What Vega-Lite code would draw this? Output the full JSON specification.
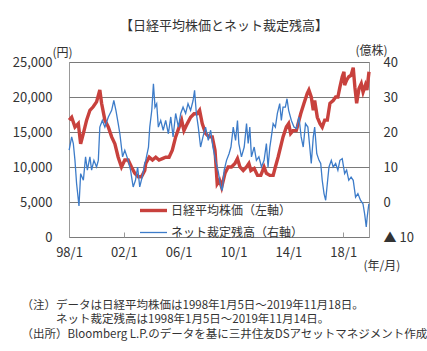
{
  "$schema": "https://vega.github.io/schema/vega-lite/v6.json",
  "width": 300,
  "height": 175,
  "autosize": {"type": "none"},
  "padding": {"left": 69, "top": 62, "right": 58, "bottom": 114},
  "background": "white",
  "config": {
    "font": "Noto Sans CJK JP",
    "view": {"stroke": "#999999", "strokeWidth": 1}
  },
  "title": {
    "text": "【日経平均株価とネット裁定残高】",
    "fontSize": 13,
    "fontWeight": "normal",
    "color": "#333333",
    "anchor": "middle",
    "frame": "group",
    "dx": 5,
    "offset": 11
  },
  "datasets": {
    "nikkei": [
      {"date": "1998-01-05", "value": 16700, "series": "日経平均株価（左軸）"},
      {"date": "1998-03-13", "value": 17100, "series": "日経平均株価（左軸）"},
      {"date": "1998-06-09", "value": 15700, "series": "日経平均株価（左軸）"},
      {"date": "1998-09-06", "value": 16200, "series": "日経平均株価（左軸）"},
      {"date": "1998-11-07", "value": 13300, "series": "日経平均株価（左軸）"},
      {"date": "1999-01-19", "value": 14800, "series": "日経平均株価（左軸）"},
      {"date": "1999-04-15", "value": 16700, "series": "日経平均株価（左軸）"},
      {"date": "1999-07-12", "value": 18100, "series": "日経平均株価（左軸）"},
      {"date": "1999-10-08", "value": 18600, "series": "日経平均株価（左軸）"},
      {"date": "2000-01-05", "value": 19300, "series": "日経平均株価（左軸）"},
      {"date": "2000-04-01", "value": 21000, "series": "日経平均株価（左軸）"},
      {"date": "2000-05-18", "value": 19100, "series": "日経平均株価（左軸）"},
      {"date": "2000-08-14", "value": 16700, "series": "日経平均株価（左軸）"},
      {"date": "2000-11-14", "value": 15700, "series": "日経平均株価（左軸）"},
      {"date": "2001-02-10", "value": 14300, "series": "日経平均株価（左軸）"},
      {"date": "2001-05-07", "value": 13300, "series": "日経平均株価（左軸）"},
      {"date": "2001-08-03", "value": 11400, "series": "日経平均株価（左軸）"},
      {"date": "2001-10-30", "value": 10000, "series": "日経平均株価（左軸）"},
      {"date": "2002-01-26", "value": 11000, "series": "日経平均株価（左軸）"},
      {"date": "2002-04-26", "value": 11000, "series": "日経平均株価（左軸）"},
      {"date": "2002-07-23", "value": 10000, "series": "日経平均株価（左軸）"},
      {"date": "2002-10-19", "value": 9100, "series": "日経平均株価（左軸）"},
      {"date": "2003-01-19", "value": 8600, "series": "日経平均株価（左軸）"},
      {"date": "2003-04-15", "value": 8600, "series": "日経平均株価（左軸）"},
      {"date": "2003-07-12", "value": 9500, "series": "日経平均株価（左軸）"},
      {"date": "2003-08-07", "value": 10500, "series": "日経平均株価（左軸）"},
      {"date": "2003-11-07", "value": 11400, "series": "日経平均株価（左軸）"},
      {"date": "2004-02-03", "value": 11000, "series": "日経平均株価（左軸）"},
      {"date": "2004-04-30", "value": 11400, "series": "日経平均株価（左軸）"},
      {"date": "2004-07-26", "value": 11000, "series": "日経平均株価（左軸）"},
      {"date": "2004-10-23", "value": 11200, "series": "日経平均株価（左軸）"},
      {"date": "2005-01-19", "value": 11400, "series": "日経平均株価（左軸）"},
      {"date": "2005-04-19", "value": 11400, "series": "日経平均株価（左軸）"},
      {"date": "2005-07-15", "value": 12400, "series": "日経平均株価（左軸）"},
      {"date": "2005-10-12", "value": 14300, "series": "日経平均株価（左軸）"},
      {"date": "2006-01-12", "value": 15700, "series": "日経平均株価（左軸）"},
      {"date": "2006-03-20", "value": 16700, "series": "日経平均株価（左軸）"},
      {"date": "2006-05-21", "value": 15200, "series": "日経平均株価（左軸）"},
      {"date": "2006-08-18", "value": 16200, "series": "日経平均株価（左軸）"},
      {"date": "2006-11-14", "value": 17100, "series": "日経平均株価（左軸）"},
      {"date": "2007-02-14", "value": 17600, "series": "日経平均株価（左軸）"},
      {"date": "2007-05-11", "value": 17600, "series": "日経平均株価（左軸）"},
      {"date": "2007-07-12", "value": 18100, "series": "日経平均株価（左軸）"},
      {"date": "2007-09-20", "value": 16200, "series": "日経平均株価（左軸）"},
      {"date": "2007-12-17", "value": 14800, "series": "日経平均株価（左軸）"},
      {"date": "2008-03-17", "value": 14300, "series": "日経平均株価（左軸）"},
      {"date": "2008-06-13", "value": 14300, "series": "日経平均株価（左軸）"},
      {"date": "2008-08-25", "value": 12400, "series": "日経平均株価（左軸）"},
      {"date": "2008-10-23", "value": 7600, "series": "日経平均株価（左軸）"},
      {"date": "2008-12-24", "value": 8100, "series": "日経平均株価（左軸）"},
      {"date": "2009-02-18", "value": 7100, "series": "日経平均株価（左軸）"},
      {"date": "2009-05-18", "value": 9100, "series": "日経平均株価（左軸）"},
      {"date": "2009-08-11", "value": 10000, "series": "日経平均株価（左軸）"},
      {"date": "2009-11-07", "value": 10000, "series": "日経平均株価（左軸）"},
      {"date": "2010-02-07", "value": 10500, "series": "日経平均株価（左軸）"},
      {"date": "2010-04-15", "value": 11200, "series": "日経平均株価（左軸）"},
      {"date": "2010-06-20", "value": 10000, "series": "日経平均株価（左軸）"},
      {"date": "2010-09-16", "value": 9500, "series": "日経平均株価（左軸）"},
      {"date": "2010-12-13", "value": 10000, "series": "日経平均株価（左軸）"},
      {"date": "2011-02-14", "value": 10500, "series": "日経平均株価（左軸）"},
      {"date": "2011-04-08", "value": 9500, "series": "日経平均株価（左軸）"},
      {"date": "2011-07-05", "value": 9800, "series": "日経平均株価（左軸）"},
      {"date": "2011-10-01", "value": 8800, "series": "日経平均株価（左軸）"},
      {"date": "2011-12-28", "value": 8800, "series": "日経平均株価（左軸）"},
      {"date": "2012-03-24", "value": 10000, "series": "日経平均株価（左軸）"},
      {"date": "2012-05-25", "value": 9100, "series": "日経平均株価（左軸）"},
      {"date": "2012-08-25", "value": 8800, "series": "日経平均株価（左軸）"},
      {"date": "2012-11-21", "value": 8800, "series": "日経平均株価（左軸）"},
      {"date": "2013-01-19", "value": 10000, "series": "日経平均株価（左軸）"},
      {"date": "2013-04-01", "value": 11400, "series": "日経平均株価（左軸）"},
      {"date": "2013-06-27", "value": 13300, "series": "日経平均株価（左軸）"},
      {"date": "2013-08-11", "value": 14300, "series": "日経平均株価（左軸）"},
      {"date": "2013-11-07", "value": 15700, "series": "日経平均株価（左軸）"},
      {"date": "2014-01-08", "value": 16200, "series": "日経平均株価（左軸）"},
      {"date": "2014-03-02", "value": 14800, "series": "日経平均株価（左軸）"},
      {"date": "2014-05-03", "value": 15200, "series": "日経平均株価（左軸）"},
      {"date": "2014-07-29", "value": 15200, "series": "日経平均株価（左軸）"},
      {"date": "2014-08-25", "value": 15700, "series": "日経平均株価（左軸）"},
      {"date": "2014-11-25", "value": 17600, "series": "日経平均株価（左軸）"},
      {"date": "2015-02-21", "value": 19100, "series": "日経平均株価（左軸）"},
      {"date": "2015-05-18", "value": 20500, "series": "日経平均株価（左軸）"},
      {"date": "2015-07-01", "value": 21000, "series": "日経平均株価（左軸）"},
      {"date": "2015-09-02", "value": 20000, "series": "日経平均株価（左軸）"},
      {"date": "2015-10-26", "value": 18100, "series": "日経平均株価（左軸）"},
      {"date": "2015-12-02", "value": 19500, "series": "日経平均株価（左軸）"},
      {"date": "2016-02-10", "value": 17100, "series": "日経平均株価（左軸）"},
      {"date": "2016-04-22", "value": 16200, "series": "日経平均株価（左軸）"},
      {"date": "2016-06-20", "value": 15700, "series": "日経平均株価（左軸）"},
      {"date": "2016-08-25", "value": 16700, "series": "日経平均株価（左軸）"},
      {"date": "2016-11-03", "value": 16700, "series": "日経平均株価（左軸）"},
      {"date": "2017-01-12", "value": 19100, "series": "日経平均株価（左軸）"},
      {"date": "2017-04-08", "value": 19500, "series": "日経平均株価（左軸）"},
      {"date": "2017-06-13", "value": 20000, "series": "日経平均株価（左軸）"},
      {"date": "2017-08-11", "value": 20000, "series": "日経平均株価（左軸）"},
      {"date": "2017-10-04", "value": 21400, "series": "日経平均株価（左軸）"},
      {"date": "2017-12-05", "value": 22900, "series": "日経平均株価（左軸）"},
      {"date": "2018-01-20", "value": 23600, "series": "日経平均株価（左軸）"},
      {"date": "2018-02-07", "value": 21700, "series": "日経平均株価（左軸）"},
      {"date": "2018-04-01", "value": 22400, "series": "日経平均株価（左軸）"},
      {"date": "2018-05-28", "value": 22900, "series": "日経平均株価（左軸）"},
      {"date": "2018-07-29", "value": 23100, "series": "日経平均株価（左軸）"},
      {"date": "2018-09-24", "value": 24200, "series": "日経平均株価（左軸）"},
      {"date": "2018-11-07", "value": 21400, "series": "日経平均株価（左軸）"},
      {"date": "2018-12-24", "value": 19100, "series": "日経平均株価（左軸）"},
      {"date": "2019-02-25", "value": 21200, "series": "日経平均株価（左軸）"},
      {"date": "2019-04-26", "value": 21900, "series": "日経平均株価（左軸）"},
      {"date": "2019-06-13", "value": 20700, "series": "日経平均株価（左軸）"},
      {"date": "2019-08-14", "value": 21700, "series": "日経平均株価（左軸）"},
      {"date": "2019-09-24", "value": 21000, "series": "日経平均株価（左軸）"},
      {"date": "2019-11-18", "value": 23600, "series": "日経平均株価（左軸）"}
    ],
    "arb": [
      {"date": "1998-01-05", "value": 14.8, "series": "ネット裁定残高（右軸）"},
      {"date": "1998-03-13", "value": 18.6, "series": "ネット裁定残高（右軸）"},
      {"date": "1998-04-26", "value": 16.7, "series": "ネット裁定残高（右軸）"},
      {"date": "1998-06-09", "value": 11.9, "series": "ネット裁定残高（右軸）"},
      {"date": "1998-07-22", "value": 5.3, "series": "ネット裁定残高（右軸）"},
      {"date": "1998-09-24", "value": -1.1, "series": "ネット裁定残高（右軸）"},
      {"date": "1998-11-07", "value": 8.1, "series": "ネット裁定残高（右軸）"},
      {"date": "1999-01-19", "value": 6.2, "series": "ネット裁定残高（右軸）"},
      {"date": "1999-03-18", "value": 12.9, "series": "ネット裁定残高（右軸）"},
      {"date": "1999-05-05", "value": 9.1, "series": "ネット裁定残高（右軸）"},
      {"date": "1999-07-12", "value": 12.9, "series": "ネット裁定残高（右軸）"},
      {"date": "1999-08-26", "value": 9.1, "series": "ネット裁定残高（右軸）"},
      {"date": "1999-10-27", "value": 11.9, "series": "ネット裁定残高（右軸）"},
      {"date": "2000-01-05", "value": 10, "series": "ネット裁定残高（右軸）"},
      {"date": "2000-02-21", "value": 11.9, "series": "ネット裁定残高（右軸）"},
      {"date": "2000-04-01", "value": 21.4, "series": "ネット裁定残高（右軸）"},
      {"date": "2000-06-07", "value": 23.3, "series": "ネット裁定残高（右軸）"},
      {"date": "2000-08-14", "value": 21.4, "series": "ネット裁定残高（右軸）"},
      {"date": "2000-11-14", "value": 24.3, "series": "ネット裁定残高（右軸）"},
      {"date": "2001-02-10", "value": 26.2, "series": "ネット裁定残高（右軸）"},
      {"date": "2001-04-09", "value": 29, "series": "ネット裁定残高（右軸）"},
      {"date": "2001-06-04", "value": 26.2, "series": "ネット裁定残高（右軸）"},
      {"date": "2001-08-04", "value": 22.4, "series": "ネット裁定残高（右軸）"},
      {"date": "2001-09-17", "value": 19.5, "series": "ネット裁定残高（右軸）"},
      {"date": "2001-11-28", "value": 12.9, "series": "ネット裁定残高（右軸）"},
      {"date": "2002-01-26", "value": 14.8, "series": "ネット裁定残高（右軸）"},
      {"date": "2002-04-26", "value": 11.9, "series": "ネット裁定残高（右軸）"},
      {"date": "2002-06-28", "value": 9.1, "series": "ネット裁定残高（右軸）"},
      {"date": "2002-09-06", "value": 4.3, "series": "ネット裁定残高（右軸）"},
      {"date": "2002-11-07", "value": 6.2, "series": "ネット裁定残高（右軸）"},
      {"date": "2003-01-03", "value": 10, "series": "ネット裁定残高（右軸）"},
      {"date": "2003-02-28", "value": 4.3, "series": "ネット裁定残高（右軸）"},
      {"date": "2003-05-12", "value": 7.5, "series": "ネット裁定残高（右軸）"},
      {"date": "2003-07-12", "value": 11, "series": "ネット裁定残高（右軸）"},
      {"date": "2003-08-07", "value": 11.9, "series": "ネット裁定残高（右軸）"},
      {"date": "2003-10-19", "value": 15.7, "series": "ネット裁定残高（右軸）"},
      {"date": "2003-11-22", "value": 21.4, "series": "ネット裁定残高（右軸）"},
      {"date": "2004-01-15", "value": 26.2, "series": "ネット裁定残高（右軸）"},
      {"date": "2004-02-28", "value": 33.8, "series": "ネット裁定残高（右軸）"},
      {"date": "2004-04-10", "value": 27.1, "series": "ネット裁定残高（右軸）"},
      {"date": "2004-05-25", "value": 28.1, "series": "ネット裁定残高（右軸）"},
      {"date": "2004-07-08", "value": 21.4, "series": "ネット裁定残高（右軸）"},
      {"date": "2004-09-09", "value": 23.3, "series": "ネット裁定残高（右軸）"},
      {"date": "2004-11-14", "value": 20.5, "series": "ネット裁定残高（右軸）"},
      {"date": "2005-01-19", "value": 23.3, "series": "ネット裁定残高（右軸）"},
      {"date": "2005-04-01", "value": 19.5, "series": "ネット裁定残高（右軸）"},
      {"date": "2005-06-04", "value": 24.3, "series": "ネット裁定残高（右軸）"},
      {"date": "2005-08-04", "value": 18.6, "series": "ネット裁定残高（右軸）"},
      {"date": "2005-10-12", "value": 25.3, "series": "ネット裁定残高（右軸）"},
      {"date": "2005-12-24", "value": 21.4, "series": "ネット裁定残高（右軸）"},
      {"date": "2006-02-24", "value": 25.3, "series": "ネット裁定残高（右軸）"},
      {"date": "2006-04-27", "value": 27.1, "series": "ネット裁定残高（右軸）"},
      {"date": "2006-07-05", "value": 25.3, "series": "ネット裁定残高（右軸）"},
      {"date": "2006-09-06", "value": 28.1, "series": "ネット裁定残高（右軸）"},
      {"date": "2006-11-14", "value": 26.2, "series": "ネット裁定残高（右軸）"},
      {"date": "2007-01-19", "value": 29, "series": "ネット裁定残高（右軸）"},
      {"date": "2007-02-28", "value": 31.9, "series": "ネット裁定残高（右軸）"},
      {"date": "2007-04-16", "value": 25.3, "series": "ネット裁定残高（右軸）"},
      {"date": "2007-06-07", "value": 21.4, "series": "ネット裁定残高（右軸）"},
      {"date": "2007-08-07", "value": 15.7, "series": "ネット裁定残高（右軸）"},
      {"date": "2007-10-09", "value": 18.6, "series": "ネット裁定残高（右軸）"},
      {"date": "2007-12-17", "value": 21.4, "series": "ネット裁定残高（右軸）"},
      {"date": "2008-02-28", "value": 17.6, "series": "ネット裁定残高（右軸）"},
      {"date": "2008-05-01", "value": 20.5, "series": "ネット裁定残高（右軸）"},
      {"date": "2008-07-01", "value": 15.7, "series": "ネット裁定残高（右軸）"},
      {"date": "2008-09-09", "value": 11.9, "series": "ネット裁定残高（右軸）"},
      {"date": "2008-11-22", "value": 8.5, "series": "ネット裁定残高（右軸）"},
      {"date": "2009-01-23", "value": 4.5, "series": "ネット裁定残高（右軸）"},
      {"date": "2009-03-07", "value": 3.3, "series": "ネット裁定残高（右軸）"},
      {"date": "2009-04-27", "value": 9.1, "series": "ネット裁定残高（右軸）"},
      {"date": "2009-06-28", "value": 11.9, "series": "ネット裁定残高（右軸）"},
      {"date": "2009-09-03", "value": 13.8, "series": "ネット裁定残高（右軸）"},
      {"date": "2009-10-24", "value": 15.7, "series": "ネット裁定残高（右軸）"},
      {"date": "2009-12-24", "value": 21.4, "series": "ネット裁定残高（右軸）"},
      {"date": "2010-02-24", "value": 17.6, "series": "ネット裁定残高（右軸）"},
      {"date": "2010-04-16", "value": 23.3, "series": "ネット裁定残高（右軸）"},
      {"date": "2010-05-22", "value": 16.7, "series": "ネット裁定残高（右軸）"},
      {"date": "2010-07-31", "value": 12.9, "series": "ネット裁定残高（右軸）"},
      {"date": "2010-10-12", "value": 15.7, "series": "ネット裁定残高（右軸）"},
      {"date": "2010-12-13", "value": 22.4, "series": "ネット裁定残高（右軸）"},
      {"date": "2011-01-26", "value": 16.7, "series": "ネット裁定残高（右軸）"},
      {"date": "2011-03-10", "value": 21.4, "series": "ネット裁定残高（右軸）"},
      {"date": "2011-04-23", "value": 12.9, "series": "ネット裁定残高（右軸）"},
      {"date": "2011-07-05", "value": 15.7, "series": "ネット裁定残高（右軸）"},
      {"date": "2011-09-02", "value": 11.9, "series": "ネット裁定残高（右軸）"},
      {"date": "2011-11-07", "value": 12.9, "series": "ネット裁定残高（右軸）"},
      {"date": "2012-01-15", "value": 10, "series": "ネット裁定残高（右軸）"},
      {"date": "2012-03-24", "value": 11.9, "series": "ネット裁定残高（右軸）"},
      {"date": "2012-05-25", "value": 16.7, "series": "ネット裁定残高（右軸）"},
      {"date": "2012-07-08", "value": 10, "series": "ネット裁定残高（右軸）"},
      {"date": "2012-08-25", "value": 15.7, "series": "ネット裁定残高（右軸）"},
      {"date": "2012-10-04", "value": 18.6, "series": "ネット裁定残高（右軸）"},
      {"date": "2012-11-21", "value": 22.4, "series": "ネット裁定残高（右軸）"},
      {"date": "2013-01-19", "value": 21.4, "series": "ネット裁定残高（右軸）"},
      {"date": "2013-03-13", "value": 25.3, "series": "ネット裁定残高（右軸）"},
      {"date": "2013-05-15", "value": 28.1, "series": "ネット裁定残高（右軸）"},
      {"date": "2013-06-27", "value": 23.3, "series": "ネット裁定残高（右軸）"},
      {"date": "2013-08-11", "value": 27.1, "series": "ネット裁定残高（右軸）"},
      {"date": "2013-10-12", "value": 27.1, "series": "ネット裁定残高（右軸）"},
      {"date": "2013-11-25", "value": 29.5, "series": "ネット裁定残高（右軸）"},
      {"date": "2014-01-08", "value": 26.2, "series": "ネット裁定残高（右軸）"},
      {"date": "2014-03-21", "value": 23.3, "series": "ネット裁定残高（右軸）"},
      {"date": "2014-05-30", "value": 21.4, "series": "ネット裁定残高（右軸）"},
      {"date": "2014-08-07", "value": 21, "series": "ネット裁定残高（右軸）"},
      {"date": "2014-10-09", "value": 24.3, "series": "ネット裁定残高（右軸）"},
      {"date": "2014-12-07", "value": 18.6, "series": "ネット裁定残高（右軸）"},
      {"date": "2015-01-31", "value": 15.7, "series": "ネット裁定残高（右軸）"},
      {"date": "2015-04-01", "value": 22.4, "series": "ネット裁定残高（右軸）"},
      {"date": "2015-06-04", "value": 21.4, "series": "ネット裁定残高（右軸）"},
      {"date": "2015-07-24", "value": 15.7, "series": "ネット裁定残高（右軸）"},
      {"date": "2015-09-02", "value": 11, "series": "ネット裁定残高（右軸）"},
      {"date": "2015-10-26", "value": 18.6, "series": "ネット裁定残高（右軸）"},
      {"date": "2015-12-02", "value": 21.4, "series": "ネット裁定残高（右軸）"},
      {"date": "2016-01-27", "value": 13.8, "series": "ネット裁定残高（右軸）"},
      {"date": "2016-03-27", "value": 11.9, "series": "ネット裁定残高（右軸）"},
      {"date": "2016-05-11", "value": 11, "series": "ネット裁定残高（右軸）"},
      {"date": "2016-06-20", "value": 6.2, "series": "ネット裁定残高（右軸）"},
      {"date": "2016-08-07", "value": 2.4, "series": "ネット裁定残高（右軸）"},
      {"date": "2016-09-20", "value": 0.5, "series": "ネット裁定残高（右軸）"},
      {"date": "2016-11-03", "value": 5.3, "series": "ネット裁定残高（右軸）"},
      {"date": "2016-12-17", "value": 10, "series": "ネット裁定残高（右軸）"},
      {"date": "2017-02-17", "value": 11.9, "series": "ネット裁定残高（右軸）"},
      {"date": "2017-04-08", "value": 10, "series": "ネット裁定残高（右軸）"},
      {"date": "2017-06-13", "value": 11, "series": "ネット裁定残高（右軸）"},
      {"date": "2017-08-11", "value": 9.1, "series": "ネット裁定残高（右軸）"},
      {"date": "2017-10-04", "value": 11.9, "series": "ネット裁定残高（右軸）"},
      {"date": "2017-12-05", "value": 12.4, "series": "ネット裁定残高（右軸）"},
      {"date": "2018-02-07", "value": 8.1, "series": "ネット裁定残高（右軸）"},
      {"date": "2018-04-01", "value": 9.1, "series": "ネット裁定残高（右軸）"},
      {"date": "2018-05-28", "value": 6.2, "series": "ネット裁定残高（右軸）"},
      {"date": "2018-07-29", "value": 7.1, "series": "ネット裁定残高（右軸）"},
      {"date": "2018-09-24", "value": 6.2, "series": "ネット裁定残高（右軸）"},
      {"date": "2018-11-25", "value": 1.4, "series": "ネット裁定残高（右軸）"},
      {"date": "2019-01-26", "value": 2.4, "series": "ネット裁定残高（右軸）"},
      {"date": "2019-04-05", "value": 0.5, "series": "ネット裁定残高（右軸）"},
      {"date": "2019-06-10", "value": -0.5, "series": "ネット裁定残高（右軸）"},
      {"date": "2019-07-24", "value": -3.3, "series": "ネット裁定残高（右軸）"},
      {"date": "2019-09-06", "value": -7.1, "series": "ネット裁定残高（右軸）"},
      {"date": "2019-10-01", "value": -4.3, "series": "ネット裁定残高（右軸）"},
      {"date": "2019-11-14", "value": -0.5, "series": "ネット裁定残高（右軸）"}
    ]
  },
  "layer": [
    {
      "data": {"name": "nikkei"},
      "mark": {"type": "line"},
      "encoding": {
        "x": {
          "field": "date",
          "type": "temporal",
          "scale": {"domain": ["1998-01-01", "2019-11-18"]},
          "axis": {
            "orient": "bottom",
            "values": [
              {"year": 1998, "month": 1, "date": 1},
              {"year": 2002, "month": 1, "date": 1},
              {"year": 2006, "month": 1, "date": 1},
              {"year": 2010, "month": 1, "date": 1},
              {"year": 2014, "month": 1, "date": 1},
              {"year": 2018, "month": 1, "date": 1}
            ],
            "format": "%y/%-m",
            "grid": false,
            "domain": false,
            "ticks": true,
            "tickSize": -5,
            "tickColor": "#999999",
            "labelPadding": 14,
            "labelFontSize": 13,
            "labelColor": "#333333",
            "labelFlush": false,
            "title": [
              "（注）データは日経平均株価は1998年1月5日～2019年11月18日。",
              "\u200b　　　ネット裁定残高は1998年1月5日～2019年11月14日。",
              "（出所）Bloomberg L.P.のデータを基に三井住友DSアセットマネジメント作成"
            ],
            "titleFontSize": 11.5,
            "titleFontWeight": "normal",
            "titleColor": "#333333",
            "titleAlign": "left",
            "titleBaseline": "top",
            "titleLineHeight": 14.5,
            "titleX": -48,
            "titleY": 62
          }
        },
        "y": {
          "field": "value",
          "type": "quantitative",
          "scale": {"domain": [0, 25000], "nice": false},
          "axis": {
            "orient": "left",
            "values": [0, 5000, 10000, 15000, 20000, 25000],
            "format": ",.0f",
            "grid": true,
            "gridColor": "#7a7a7a",
            "gridWidth": 1,
            "domain": false,
            "ticks": false,
            "tickSize": 0,
            "labelPadding": 17,
            "labelFontSize": 13,
            "labelColor": "#333333",
            "title": "(円)",
            "titleAngle": 0,
            "titleAlign": "left",
            "titleBaseline": "middle",
            "titleX": -17,
            "titleY": -10,
            "titleFontSize": 12,
            "titleFontWeight": "normal",
            "titleColor": "#333333"
          }
        },
        "color": {
          "field": "series",
          "type": "nominal",
          "scale": {
            "domain": ["日経平均株価（左軸）", "ネット裁定残高（右軸）"],
            "range": ["#c8413d", "#3d7cc9"]
          },
          "legend": {
            "orient": "none",
            "legendX": 69,
            "legendY": 133,
            "title": null,
            "symbolType": "stroke",
            "symbolSize": 729,
            "labelFontSize": 12,
            "labelColor": "#333333",
            "labelOffset": 2,
            "rowPadding": -15,
            "padding": 0
          }
        },
        "strokeWidth": {
          "field": "series",
          "type": "nominal",
          "scale": {
            "domain": ["日経平均株価（左軸）", "ネット裁定残高（右軸）"],
            "range": [3.4, 1.3]
          },
          "legend": {
            "orient": "none",
            "legendX": 69,
            "legendY": 133,
            "title": null,
            "symbolType": "stroke",
            "symbolSize": 729,
            "labelFontSize": 12,
            "labelColor": "#333333",
            "labelOffset": 2,
            "rowPadding": -15,
            "padding": 0
          }
        }
      }
    },
    {
      "data": {"name": "arb"},
      "mark": {"type": "line"},
      "encoding": {
        "x": {
          "field": "date",
          "type": "temporal",
          "axis": {
            "orient": "bottom",
            "labels": false,
            "ticks": false,
            "domain": false,
            "grid": false,
            "title": "(年/月)",
            "titleFontSize": 12,
            "titleFontWeight": "normal",
            "titleColor": "#333333",
            "titleAlign": "left",
            "titleBaseline": "middle",
            "titleX": 294,
            "titleY": 28
          }
        },
        "y": {
          "field": "value",
          "type": "quantitative",
          "scale": {"domain": [-10, 40], "nice": false},
          "axis": {
            "orient": "right",
            "values": [-10, 0, 10, 20, 30, 40],
            "labelExpr": "datum.value < 0 ? '▲ ' + (-datum.value) : datum.label",
            "grid": false,
            "domain": false,
            "ticks": false,
            "tickSize": 0,
            "labelPadding": 14,
            "labelFontSize": 13,
            "labelColor": "#333333",
            "title": "(億株)",
            "titleAngle": 0,
            "titleAlign": "left",
            "titleBaseline": "middle",
            "titleX": -14,
            "titleY": -12,
            "titleFontSize": 12,
            "titleFontWeight": "normal",
            "titleColor": "#333333"
          }
        },
        "color": {"field": "series", "type": "nominal"},
        "strokeWidth": {"field": "series", "type": "nominal"}
      }
    }
  ],
  "resolve": {
    "scale": {"y": "independent"},
    "axis": {"x": "independent", "y": "independent"}
  }
}
